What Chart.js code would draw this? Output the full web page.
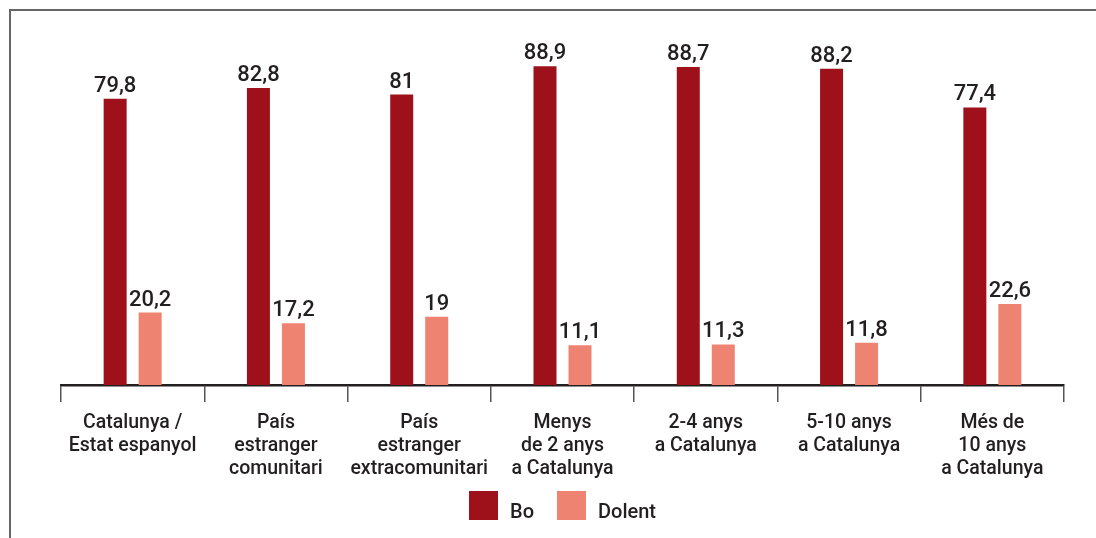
<!DOCTYPE html>
<html lang="ca">
<head>
<meta charset="utf-8">
<title>Bo / Dolent per origen i temps de residència</title>
<script src="https://cdn.jsdelivr.net/npm/chart.js@4.4.1/dist/chart.umd.min.js"></script>
<style>
  html, body { margin: 0; padding: 0; background: #ffffff; }
  #wrap { position: relative; width: 1096px; height: 538px; overflow: hidden; }
  #frame {
    position: absolute; left: 9px; top: 9px; width: 1100px; height: 540px;
    border-top: 2px solid #666666; border-left: 2px solid #666666;
    box-sizing: border-box; pointer-events: none;
  }
  canvas { position: absolute; left: 0; top: 0; }
</style>
</head>
<body>
<div id="wrap">
  <div id="frame"></div>
  <canvas id="chart" width="1096" height="538"></canvas>
</div>
<script>
// Categories (multi-line labels)
const categories = [
  ['Catalunya /', 'Estat espanyol'],
  ['País', 'estranger', 'comunitari'],
  ['País', 'estranger', 'extracomunitari'],
  ['Menys', 'de 2 anys', 'a Catalunya'],
  ['2-4 anys', 'a Catalunya'],
  ['5-10 anys', 'a Catalunya'],
  ['Més de', '10 anys', 'a Catalunya']
];

// Series values (%)
const boValues     = [79.8, 82.8, 81, 88.9, 88.7, 88.2, 77.4];
const dolentValues = [20.2, 17.2, 19, 11.1, 11.3, 11.8, 22.6];

const seriesNames = ['Bo', 'Dolent'];
const seriesColors = ['#9e111b', '#ef8371'];

const TEXT = '#231f20';
const FONT = 'Roboto, "Noto Sans", sans-serif';

const fmt = v => String(v).replace('.', ',');

// Value labels above every bar
const valueLabels = {
  id: 'valueLabels',
  afterDatasetsDraw(chart) {
    const ctx = chart.ctx;
    ctx.save();
    ctx.font = '500 22px ' + FONT;
    ctx.fillStyle = TEXT;
    ctx.textAlign = 'center';
    ctx.textBaseline = 'alphabetic';
    chart.data.datasets.forEach((ds, i) => {
      const meta = chart.getDatasetMeta(i);
      meta.data.forEach((bar, j) => {
        ctx.fillText(fmt(ds.data[j]), bar.x, bar.y - 7);
      });
    });
    ctx.restore();
  }
};

// Legend centred under the plot: square swatch followed by its label
const bottomLegend = {
  id: 'bottomLegend',
  afterDraw(chart) {
    const ctx = chart.ctx;
    const box = 29, gap = 12, spacing = 23;
    const boxTop = 491, baseline = 518;
    ctx.save();
    ctx.font = '500 20px ' + FONT;
    const items = chart.data.datasets.map(ds => ({
      text: ds.label, color: ds.backgroundColor, w: ctx.measureText(ds.label).width
    }));
    const total = items.reduce((s, it) => s + box + gap + it.w, 0) + spacing * (items.length - 1);
    const area = chart.chartArea;
    let x = (area.left + area.right) / 2 - total / 2;
    items.forEach(it => {
      ctx.fillStyle = it.color;
      ctx.fillRect(x, boxTop, box, box);
      ctx.fillStyle = TEXT;
      ctx.textAlign = 'left';
      ctx.textBaseline = 'alphabetic';
      ctx.fillText(it.text, x + box + gap, baseline);
      x += box + gap + it.w + spacing;
    });
    ctx.restore();
  }
};

new Chart(document.getElementById('chart'), {
  type: 'bar',
  data: {
    labels: categories,
    datasets: [
      { label: seriesNames[0], data: boValues, backgroundColor: seriesColors[0] },
      { label: seriesNames[1], data: dolentValues, backgroundColor: seriesColors[1] }
    ]
  },
  options: {
    responsive: false,
    animation: false,
    devicePixelRatio: 1,
    categoryPercentage: 0.4885,
    barPercentage: 0.657,
    layout: { padding: { left: 61, right: 32, top: 26.4, bottom: 0 } },
    plugins: {
      legend: { display: false },
      tooltip: { enabled: false }
    },
    scales: {
      x: {
        offset: true,
        grid: {
          offset: true,
          drawOnChartArea: false,
          drawTicks: true,
          tickLength: 17,
          color: '#555555',
          lineWidth: 1.5
        },
        border: { display: true, color: TEXT, width: 2.5 },
        ticks: {
          color: TEXT,
          font: { family: FONT, size: 19.5, weight: '500', lineHeight: 1.195 },
          padding: 9,
          maxRotation: 0,
          autoSkip: false
        },
        afterFit(scale) { scale.height = 538 - 385; }
      },
      y: {
        display: false,
        min: 0,
        max: 100
      }
    }
  },
  plugins: [valueLabels, bottomLegend]
});
</script>
</body>
</html>
